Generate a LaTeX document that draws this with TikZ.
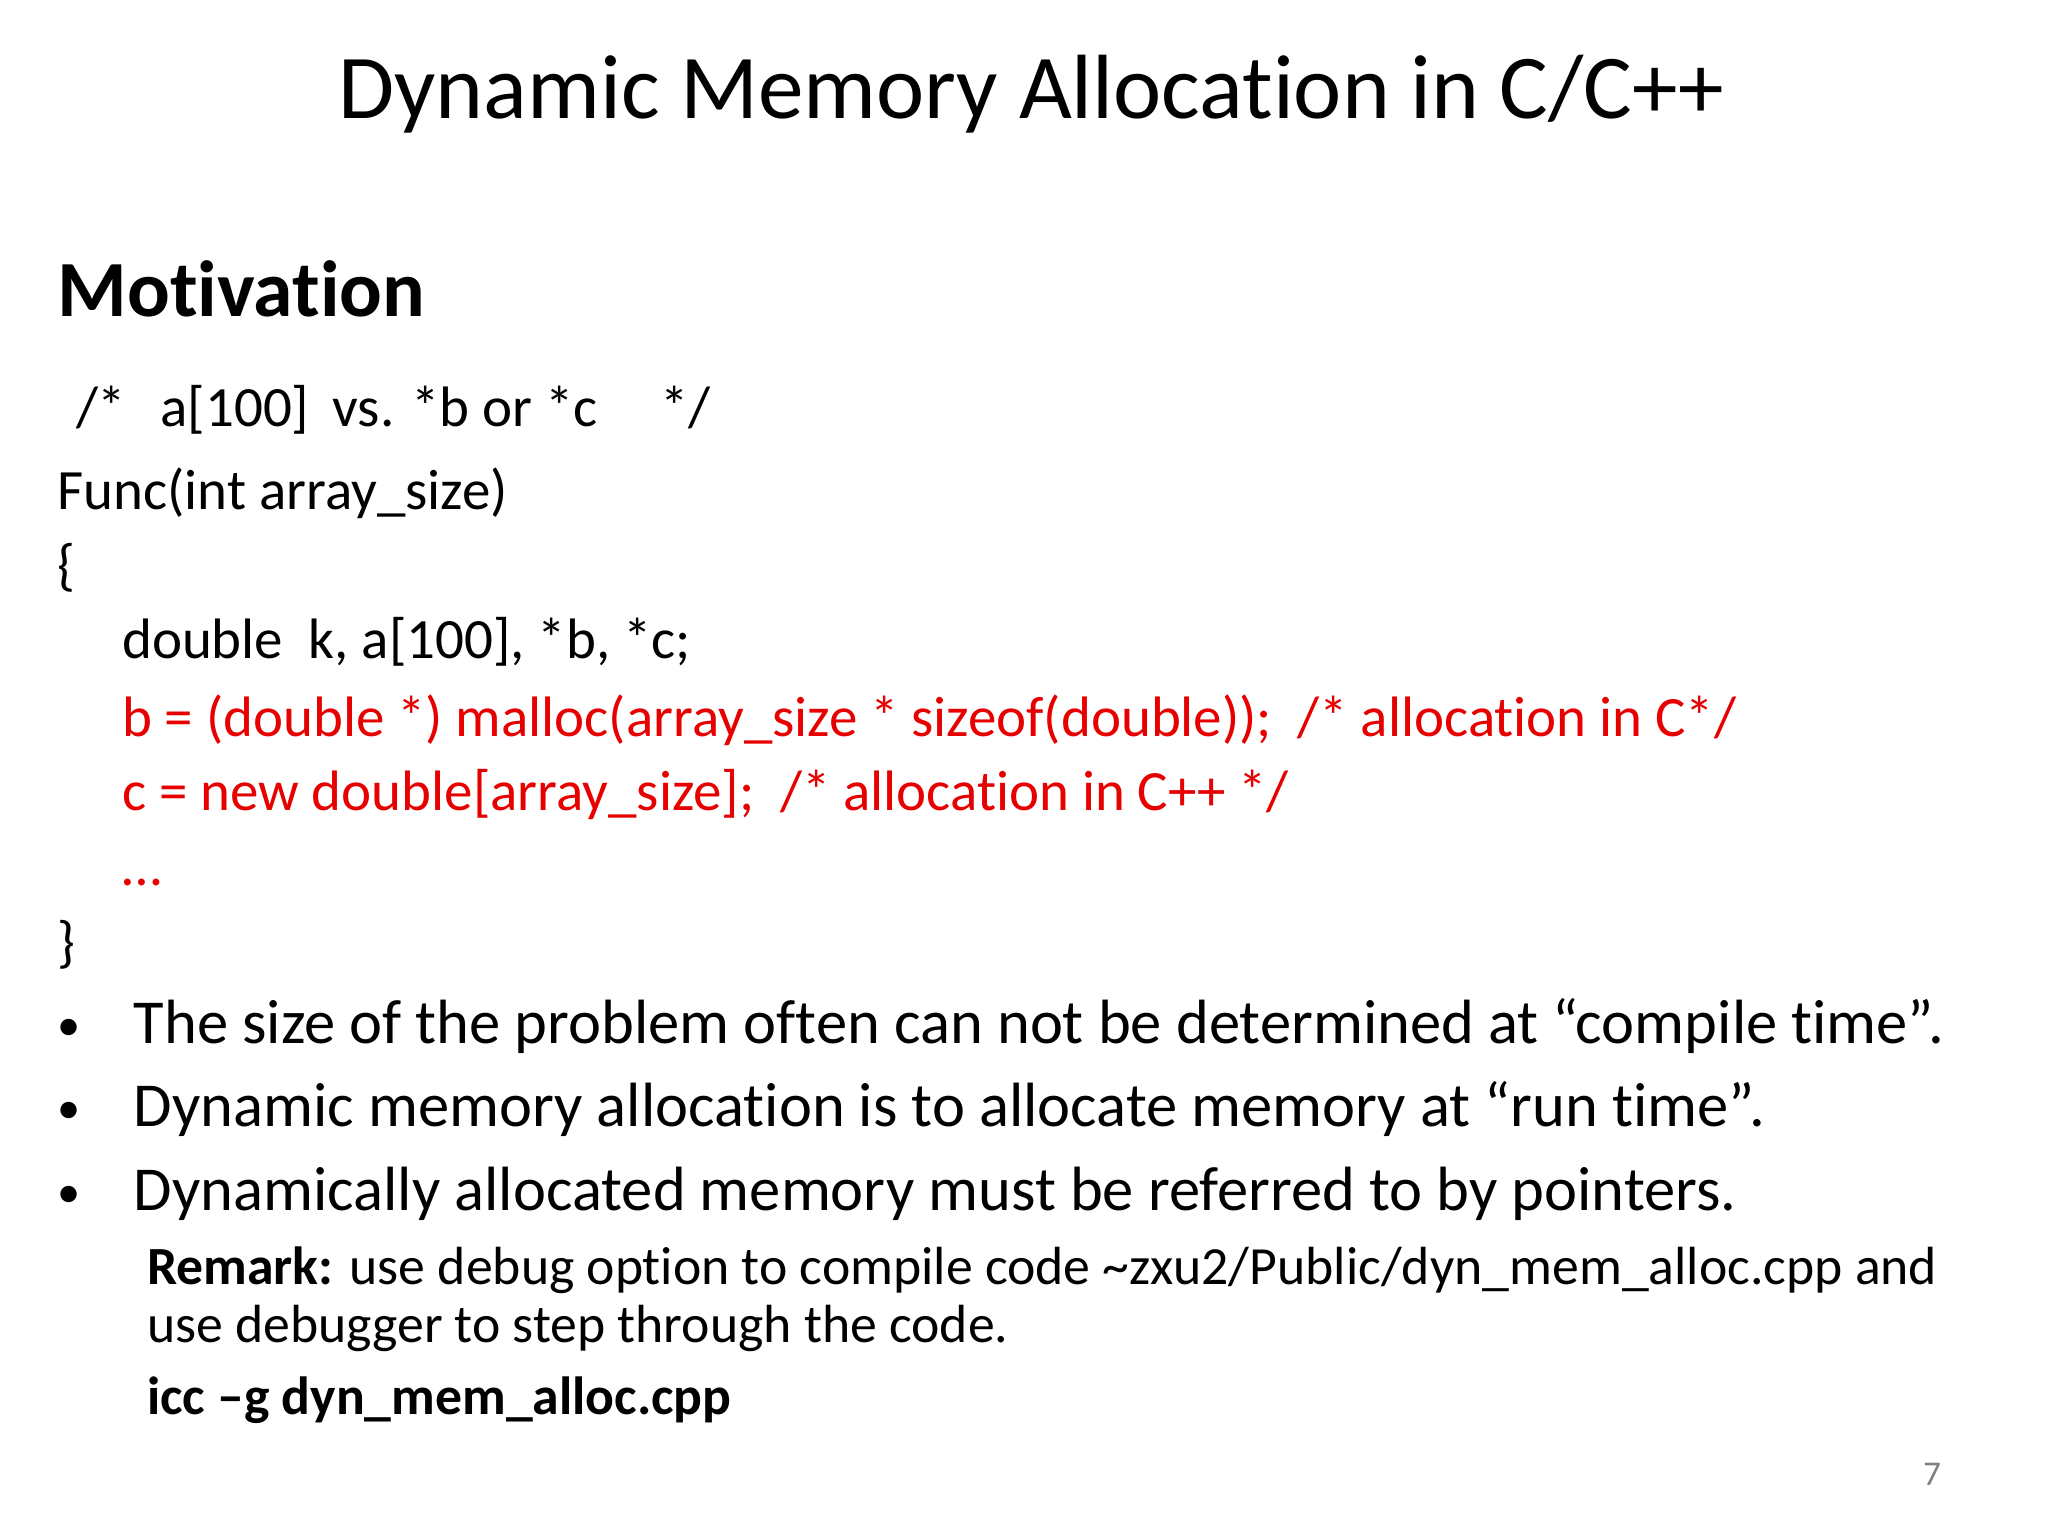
\documentclass[tikz,border=0pt]{standalone}
\usepackage{fontspec}
\setmainfont[Ligatures={NoCommon}]{Carlito}
\begin{document}
\begin{tikzpicture}[x=0.01cm,y=-0.01cm,
  t/.style={anchor=base west,inner sep=0pt},
  code/.style={t,font=\fontsize{12.3}{15}\selectfont},
  red/.style={code,text={rgb,255:red,230;green,0;blue,0}},
  bul/.style={t,font=\fontsize{13.5}{16}\selectfont},
  rem/.style={t,font=\fontsize{11.6}{13}\selectfont}]
\useasboundingbox (0,0) rectangle (1555,1166);
\node[anchor=base,inner sep=0pt,font=\fontsize{19.7}{24}\selectfont] (title) at (783,90) {Dynamic Memory Allocation in C/C++};
\node[t,font=\fontsize{17.2}{22}\selectfont\bfseries] (mot) at (43,240) {Motivation};
\node[code] (c0) at (57,324) {/*\hspace{0.6em}a[100]\hspace{0.4em}vs. *b or *c\hspace{1.1em}*/};
\node[code] (c1) at (43,387) {Func(int array\_size)};
\node[code] (c2) at (43,444) {\{};
\node[code] (c3) at (92,500) {double\hspace{0.45em}k, a[100], *b, *c;};
\node[red] (c4) at (92,559) {b = (double *) malloc(array\_size * sizeof(double));\hspace{0.45em}/* allocation in C*/};
\node[red] (c5) at (92,615) {c = new double[array\_size];\hspace{0.45em}/* allocation in C++ */};
\node[red] (c6) at (92,672) {…};
\node[code] (c7) at (43,730) {\}};
\foreach \y/\s [count=\i] in {792/{The size of the problem often can not be determined at “compile time”.},855/{Dynamic memory allocation is to allocate memory at “run time”.},919/{Dynamically allocated memory must be referred to by pointers.}}{
  \node[bul,font=\fontsize{10}{12}\selectfont] (d\i) at (43,\y-2) {•};
  \node[bul] (b\i) at (101,\y) {\s};
}
\node[rem] (r1) at (111,975) {\textbf{Remark:} use debug option to compile code \textasciitilde zxu2/Public/dyn\_mem\_alloc.cpp and};
\node[rem] (r2) at (111,1019) {use debugger to step through the code.};
\node[rem,font=\fontsize{11.6}{13}\selectfont\bfseries] (r3) at (111,1074) {icc –g dyn\_mem\_alloc.cpp};
\node[anchor=base,inner sep=0pt,font=\fontsize{7.5}{9}\selectfont,text=gray] (pg) at (1467,1128) {7};
\end{tikzpicture}
\end{document}
